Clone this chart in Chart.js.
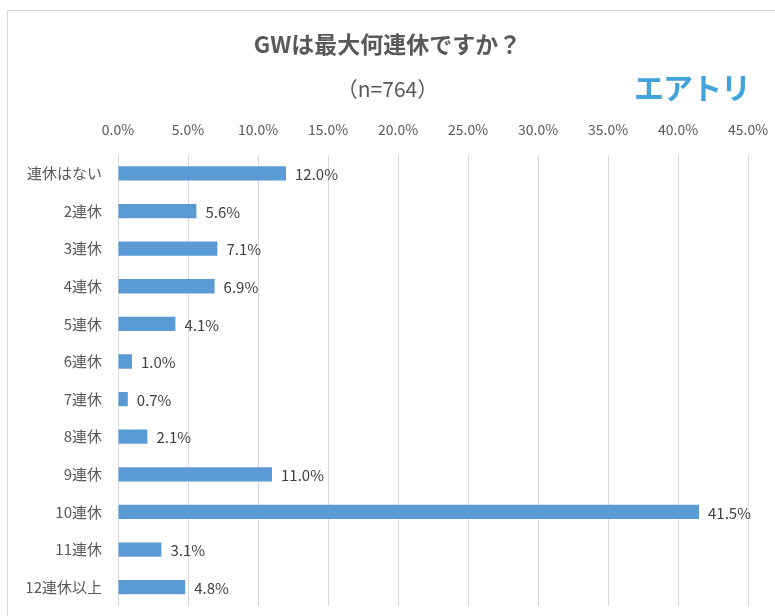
<!DOCTYPE html>
<html>
<head>
<meta charset="utf-8">
<script src="https://cdn.jsdelivr.net/npm/chart.js@4"></script>
<style>
  html, body { margin: 0; padding: 0; background: #fff; }
  #wrap { position: relative; width: 775px; height: 616px; overflow: hidden; }
  #frame { position: absolute; left: 7px; top: 10px; width: 800px; height: 700px;
           border-left: 1px solid #d9d9d9; border-top: 1px solid #d9d9d9; }
  #gw { position: absolute; left: 0; top: 0; }
  #logo { position: absolute; left: 634px; top: 64px; font-family: "Noto Sans CJK JP";
          font-weight: bold; font-size: 30px; color: #42a4db; letter-spacing: -1px; }
</style>
</head>
<body>
<div id="wrap">
  <div id="frame"></div>
  <canvas id="gw" width="775" height="616"></canvas>
  <div id="logo">エアトリ</div>
</div>
<script>
  const renkyu = ['連休はない', '2連休', '3連休', '4連休', '5連休', '6連休', '7連休', '8連休', '9連休', '10連休', '11連休', '12連休以上'];
  const wariai = [12.0, 5.6, 7.1, 6.9, 4.1, 1.0, 0.7, 2.1, 11.0, 41.5, 3.1, 4.8];

  const fontJP = '"Noto Sans CJK JP", "Noto Sans", sans-serif';

  // bar value labels
  const valueLabels = {
    id: 'valueLabels',
    afterDatasetsDraw(chart) {
      const ctx = chart.ctx;
      ctx.save();
      ctx.font = '15px ' + fontJP;
      ctx.fillStyle = '#404040';
      ctx.textAlign = 'left';
      ctx.textBaseline = 'middle';
      chart.getDatasetMeta(0).data.forEach((bar, i) => {
        ctx.fillText(wariai[i].toFixed(1) + '%', bar.x + 9, bar.y + 1);
      });
      ctx.restore();
    }
  };

  const gw = new Chart(document.getElementById('gw'), {
    type: 'bar',
    data: {
      labels: renkyu,
      datasets: [{
        data: wariai,
        backgroundColor: '#5b9bd5',
        borderColor: '#5b9bd5',
        barPercentage: 0.38,
        categoryPercentage: 1.0
      }]
    },
    options: {
      indexAxis: 'y',
      responsive: false,
      animation: false,
      layout: { padding: { left: 27, right: 27, top: 30, bottom: 10 } },
      plugins: {
        legend: { display: false },
        tooltip: { enabled: false },
        title: {
          display: true,
          text: 'GWは最大何連休ですか？',
          color: '#595959',
          font: { family: fontJP, size: 23, weight: 'bold' },
          padding: { top: 0, bottom: 16 }
        },
        subtitle: {
          display: true,
          text: '（n=764）',
          color: '#595959',
          font: { family: fontJP, size: 21 },
          padding: { top: 3, bottom: 2 }
        }
      },
      scales: {
        x: {
          position: 'top',
          min: 0,
          max: 45,
          ticks: {
            stepSize: 5,
            padding: 17,
            color: '#595959',
            font: { family: fontJP, size: 14 },
            callback: v => v.toFixed(1) + '%'
          },
          grid: { color: '#d9d9d9', drawTicks: false },
          border: { display: false },
          afterFit(scale) {
            scale.paddingLeft = 0;
            scale.paddingRight = 0;
          }
        },
        y: {
          ticks: {
            padding: 16,
            color: '#595959',
            font: { family: fontJP, size: 15 }
          },
          grid: { display: false, drawTicks: false },
          border: { display: false },
          afterFit(scale) {
            scale.width = 91;
            scale.paddingTop = 0;
            scale.paddingBottom = 0;
          }
        }
      }
    },
    plugins: [valueLabels]
  });
</script>
</body>
</html>
